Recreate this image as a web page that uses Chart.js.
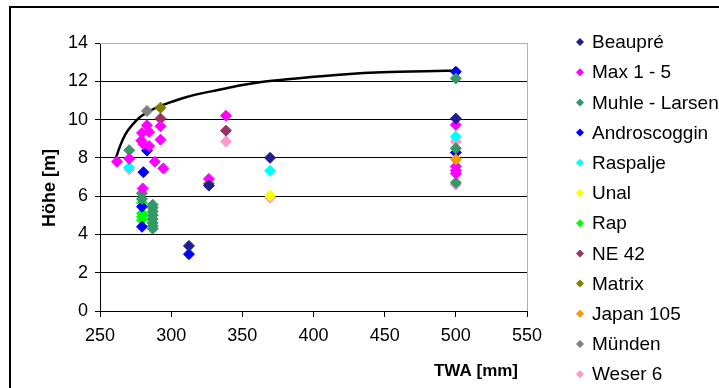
<!DOCTYPE html>
<html>
<head>
<meta charset="utf-8">
<script src="https://cdn.jsdelivr.net/npm/chart.js@4.4.0/dist/chart.umd.min.js"></script>
<style>
  html, body { margin: 0; padding: 0; background: #fff; }
  canvas { display: block; }
</style>
</head>
<body>
<canvas id="c" width="719" height="388"></canvas>
<script>
// ---------- DATA ----------
const seriesNames = ["Beaupré", "Max 1 - 5", "Muhle - Larsen", "Androscoggin", "Raspalje", "Unal", "Rap", "NE 42", "Matrix", "Japan 105", "Münden", "Weser 6"];
const seriesColors = ["#1f1f8f", "#ff00ff", "#339966", "#0000ff", "#00ffff", "#ffff00", "#00ff00", "#993366", "#808000", "#ff9900", "#808080", "#ff99cc"];

const beaupre = [[312.5, 3.4], [326.5, 6.55], [369.5, 8.0], [500, 10.05]];
const max15 = [[262, 7.8], [270.5, 7.95], [280, 6.4], [283, 9.7], [279.5, 9.3], [284.5, 9.35], [279, 8.9], [280.5, 8.72], [284.5, 8.62], [288.5, 7.8], [292.5, 9.65], [292.5, 8.95], [294.5, 7.45], [338.5, 10.2], [326.5, 6.9], [500, 9.72], [500, 7.55], [500, 7.35], [500, 7.18]];
const muhleLarsen = [[270.5, 8.4], [279.5, 6.15], [279.5, 5.85], [287, 5.55], [287, 5.4], [287, 5.2], [287, 5.0], [287, 4.8], [287, 4.6], [287, 4.45], [287, 4.3], [500, 12.15], [500, 8.5], [500, 6.7]];
const androscoggin = [[283, 8.38], [280.5, 7.25], [279.5, 5.45], [279.5, 4.4], [312.5, 2.97], [500, 12.5], [500, 8.28]];
const raspalje = [[270.5, 7.5], [369.5, 7.32], [500, 9.1]];
const unal = [[369.5, 6.02]];
const rap = [[279.5, 5.65], [279.5, 5.1], [279.5, 4.92], [279.5, 4.75]];
const ne42 = [[292.5, 10.05], [338.5, 9.42]];
const matrix = [[292.5, 10.62], [326.5, 6.65]];
const japan105 = [[500, 7.92]];
const muenden = [[283, 10.45]];
const weser6 = [[270.5, 7.4], [338.5, 8.85], [369.5, 5.92], [500, 8.85], [500, 6.6]];

const seriesData = [beaupre, max15, muhleLarsen, androscoggin, raspalje, unal, rap, ne42, matrix, japan105, muenden, weser6];

// fitted curve
const curveX = [261, 264, 268, 273, 278, 285, 292, 300, 311, 322, 332, 348, 362, 388, 423, 448, 479, 500];
const curveY = [7.95, 8.6, 9.25, 9.75, 10.12, 10.45, 10.7, 10.92, 11.18, 11.38, 11.53, 11.78, 11.95, 12.15, 12.37, 12.47, 12.53, 12.55];

const xTicks = [250, 300, 350, 400, 450, 500, 550];
const yTicks = [0, 2, 4, 6, 8, 10, 12, 14];
const xTitle = "TWA [mm]";
const yTitle = "Höhe [m]";

// ---------- CHART ----------
const FONT = "'Liberation Sans', Arial, sans-serif";
const n = seriesNames.length;
const datasets = seriesNames.map((name, i) => ({
  label: name,
  data: seriesData[i].map(p => ({ x: p[0], y: p[1] })),
  backgroundColor: seriesColors[i],
  borderColor: seriesColors[i],
  borderWidth: 1,
  pointStyle: 'rectRot',
  pointRadius: 5.5,
  pointHoverRadius: 5.5,
  showLine: false,
  order: name === "Japan 105" ? 0 : i + 1
}));
datasets.push({
  label: '_curve',
  data: curveX.map((x, i) => ({ x, y: curveY[i] })),
  showLine: true,
  borderColor: '#000',
  borderWidth: 2.5,
  pointRadius: 0,
  cubicInterpolationMode: 'monotone',
  fill: false,
  order: 100
});

const decor = {
  id: 'decor',
  beforeDraw(chart) {
    const ctx = chart.ctx;
    ctx.save();
    ctx.fillStyle = '#fff';
    ctx.fillRect(0, 0, chart.width, chart.height);
    ctx.strokeStyle = '#000';
    ctx.lineWidth = 2;
    ctx.strokeRect(10, 7, 900, 600);
    ctx.restore();
  },
  beforeDatasetsDraw(chart) {
    const ctx = chart.ctx, a = chart.chartArea;
    ctx.save();
    ctx.strokeStyle = '#b0b0b0';
    ctx.lineWidth = 1;
    ctx.beginPath();
    ctx.moveTo(a.left, a.top + 0.5);
    ctx.lineTo(a.right + 0.5, a.top + 0.5);
    ctx.lineTo(a.right + 0.5, a.bottom);
    ctx.stroke();
    ctx.restore();
  },
  afterDraw(chart) {
    const ctx = chart.ctx;
    ctx.save();
    ctx.fillStyle = '#000';
    // axis titles
    ctx.font = 'bold 17px ' + FONT;
    ctx.textAlign = 'center';
    ctx.textBaseline = 'middle';
    ctx.fillText(xTitle, 476, 371);
    ctx.save();
    ctx.translate(50, 188);
    ctx.rotate(-Math.PI / 2);
    ctx.font = 'bold 18px ' + FONT;
    ctx.fillText(yTitle, 0, 0);
    ctx.restore();
    // legend
    ctx.font = '19px ' + FONT;
    ctx.textAlign = 'left';
    for (let i = 0; i < n; i++) {
      const y = 42 + i * 30.2;
      const x = 580;
      const r = 4;
      ctx.fillStyle = seriesColors[i];
      ctx.beginPath();
      ctx.moveTo(x, y - r); ctx.lineTo(x + r, y); ctx.lineTo(x, y + r); ctx.lineTo(x - r, y);
      ctx.closePath();
      ctx.fill();
      ctx.fillStyle = '#000';
      ctx.fillText(seriesNames[i], 592, y + 1);
    }
    ctx.restore();
  }
};

new Chart(document.getElementById('c'), {
  type: 'scatter',
  data: { datasets },
  plugins: [decor],
  options: {
    responsive: false,
    devicePixelRatio: 1,
    animation: false,
    events: [],
    layout: { padding: { top: 43, right: 192, left: 0, bottom: 0 } },
    plugins: { legend: { display: false }, tooltip: { enabled: false }, title: { display: false } },
    scales: {
      x: {
        type: 'linear',
        min: 250, max: 550,
        afterBuildTicks: s => { s.ticks = xTicks.map(v => ({ value: v })); },
        afterFit: s => { s.height = 77; },
        ticks: { color: '#000', font: { family: FONT, size: 18 }, padding: 8, maxRotation: 0 },
        grid: { drawOnChartArea: false, drawTicks: true, tickLength: 6, color: '#000', tickColor: '#000' },
        border: { color: '#000', width: 1 }
      },
      y: {
        type: 'linear',
        min: 0, max: 14,
        afterBuildTicks: s => { s.ticks = yTicks.map(v => ({ value: v })); },
        afterFit: s => { s.width = 100; },
        ticks: { color: '#000', font: { family: FONT, size: 18 }, padding: 7 },
        grid: {
          color: c => (c.tick && c.tick.value === 14) ? '#b0b0b0' : '#000',
          tickColor: '#000', tickLength: 5, lineWidth: 1
        },
        border: { color: '#000', width: 1 }
      }
    }
  }
});
</script>
</body>
</html>
